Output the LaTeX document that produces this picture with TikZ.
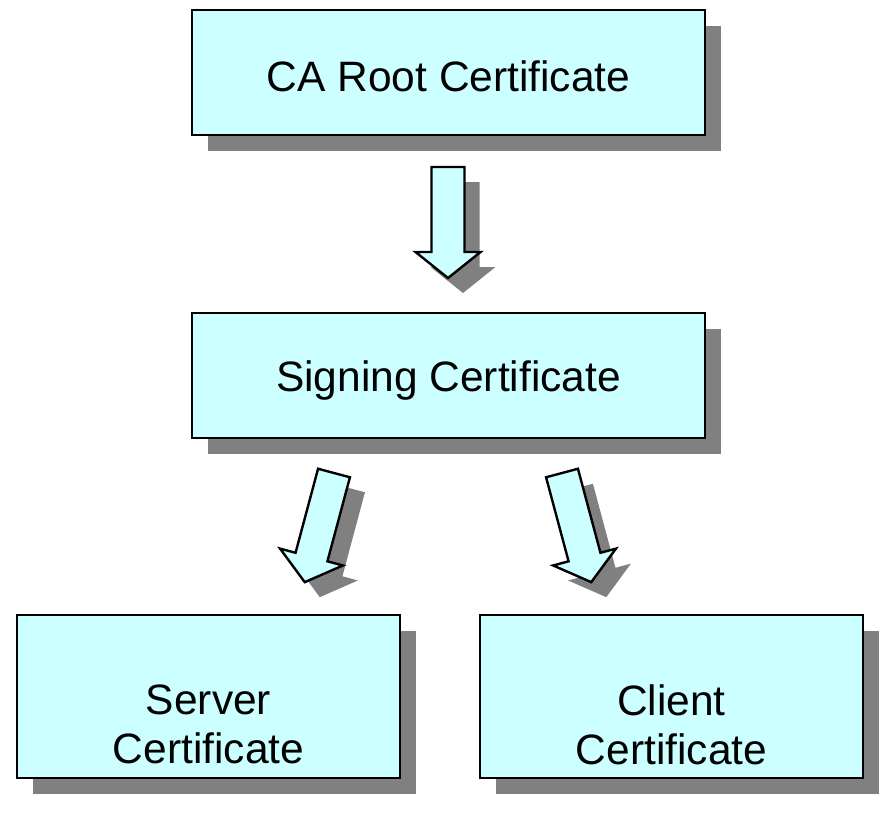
\documentclass[tikz,border=0pt]{standalone}
\usepackage{fontspec}
\setmainfont{Liberation Sans}
\usetikzlibrary{shadows}
\definecolor{boxfill}{RGB}{204,255,255}
\definecolor{shade}{RGB}{128,128,128}
\tikzset{
  certbox/.style={draw=black, line width=1.8pt, fill=boxfill, inner sep=0pt,
    drop shadow={shadow xshift=16pt, shadow yshift=-16pt, fill=shade, opacity=1}},
  certtext/.style={inner sep=0pt, align=center,
    font=\fontsize{42.5}{49}\selectfont},
  arrowbody/.style={draw=black, line width=2.4pt, line join=miter, fill=boxfill},
  arrowshade/.style={fill=shade},
}
% block arrow outline, pointing down from its top centre
\newcommand{\blockarrowpath}[1]{%
  (-16.5,0) -- (16.5,0) -- (16.5,#1-26) -- (32.5,#1-26) -- (0,#1)
  -- (-32.5,#1-26) -- (-16.5,#1-26) -- cycle}
% #1 top centre, #2 rotation, #3 length
\newcommand{\blockarrow}[3]{%
  \begin{scope}[shift={#1}, shift={(15,15)}, rotate=#2]
    \fill[arrowshade] \blockarrowpath{#3};
  \end{scope}
  \begin{scope}[shift={#1}, rotate=#2]
    \filldraw[arrowbody] \blockarrowpath{#3};
  \end{scope}}
\begin{document}
\begin{tikzpicture}[x=1pt, y=-1pt]
  \useasboundingbox (0,0) rectangle (882,820);

  \node[certbox, minimum width=513pt, minimum height=125pt] (root) at (448.5,72.5) {};
  \node[certbox, minimum width=513pt, minimum height=125pt] (signing) at (448.5,375.5) {};
  \node[certbox, minimum width=383pt, minimum height=163pt] (server) at (208.5,696.5) {};
  \node[certbox, minimum width=383pt, minimum height=163pt] (client) at (671.5,696.5) {};

  \node[certtext, yshift=-4pt] (roottext) at (root.center) {CA Root Certificate};
  \node[certtext, yshift=-5pt] (signingtext) at (signing.center) {Signing Certificate};
  \node[certtext, yshift=-28pt] (servertext) at (server.center) {Server\\Certificate};
  \node[certtext, yshift=-28pt] (clienttext) at (client.center) {Client\\Certificate};

  \coordinate (a1) at (448,167);
  \coordinate (a2) at (334,473);
  \coordinate (a3) at (562,473);

  \blockarrow{(a1)}{0}{111}
  \blockarrow{(a2)}{-15}{113}
  \blockarrow{(a3)}{15}{113}
\end{tikzpicture}
\end{document}
